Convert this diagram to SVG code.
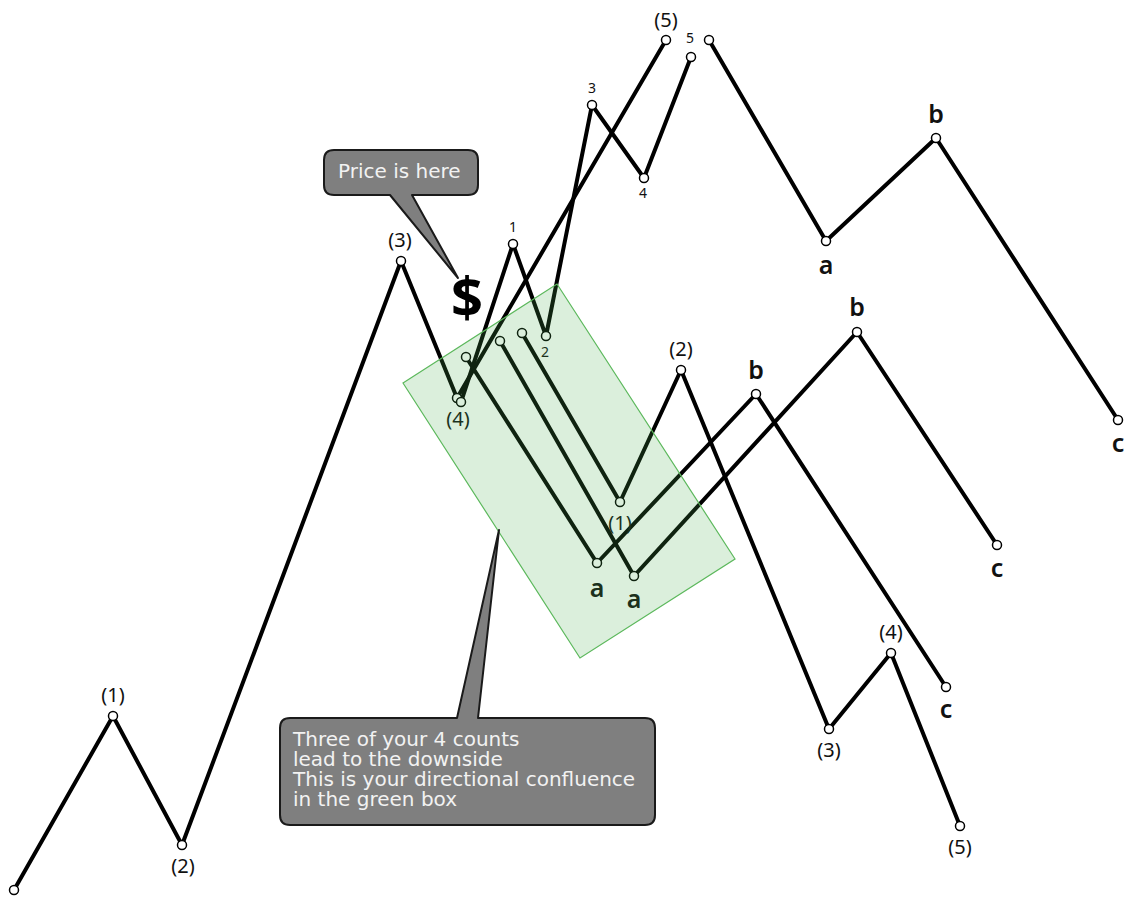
<svg xmlns="http://www.w3.org/2000/svg" width="1126" height="898" viewBox="0 0 1126 898">
<style>
.w{fill:none;stroke:#000;stroke-width:4;stroke-linejoin:round;stroke-linecap:round}
.n{fill:#fff;stroke:#000;stroke-width:1.5}
.p{font-family:"Noto Sans","Open Sans","DejaVu Sans",sans-serif;font-size:20px;fill:#111;text-anchor:middle}
.s{font-family:"Noto Sans","Open Sans","DejaVu Sans",sans-serif;font-size:14px;fill:#111;text-anchor:middle}
.l{font-family:"Noto Sans","Open Sans","DejaVu Sans",sans-serif;font-size:25px;font-weight:600;fill:#111;text-anchor:middle}
.co{fill:#7f7f7f;stroke:#1a1a1a;stroke-width:2;stroke-linejoin:round}
.ct{font-family:"DejaVu Sans","Noto Sans",sans-serif;font-size:20px;fill:#f2f2f2}
</style>
<rect width="1126" height="898" fill="#fff"/>
<g id="connectors">
<polyline class="w" points="14,890 113,716 182,845 401,261 457,398"/>
<polyline class="w" points="457,398 666,40"/>
<polyline class="w" points="461,402 513,244 546,336 592,105 644,178 691,57"/>
<polyline class="w" points="709,40 826,241 936,138 1118,420"/>
<polyline class="w" points="466,357 597,563 756,394 946,687"/>
<polyline class="w" points="500,341 634,576 857,332 997,545"/>
<polyline class="w" points="522,333 620,502 681,370 829,729 891,653 960,826"/>
</g>
<g id="node-start"><circle class="n" cx="14" cy="890" r="4.5"/></g>
<g id="node-p1"><circle class="n" cx="113" cy="716" r="4.5"/><text class="p" x="113" y="702">(1)</text></g>
<g id="node-p2"><circle class="n" cx="182" cy="845" r="4.5"/><text class="p" x="183" y="873">(2)</text></g>
<g id="node-p3"><circle class="n" cx="401" cy="261" r="4.5"/><text class="p" x="400" y="247">(3)</text></g>
<g id="node-p4"><circle class="n" cx="457" cy="398" r="4.5"/><circle class="n" cx="461" cy="402" r="4.5"/><text class="p" x="458" y="426">(4)</text></g>
<g id="node-p5"><circle class="n" cx="666" cy="40" r="4.5"/><text class="p" x="666" y="27">(5)</text></g>
<g id="node-s1"><circle class="n" cx="513" cy="244" r="4.5"/><text class="s" x="513" y="232">1</text></g>
<g id="node-s2"><circle class="n" cx="546" cy="336" r="4.5"/><text class="s" x="545" y="357">2</text></g>
<g id="node-s3"><circle class="n" cx="592" cy="105" r="4.5"/><text class="s" x="592" y="93">3</text></g>
<g id="node-s4"><circle class="n" cx="644" cy="178" r="4.5"/><text class="s" x="643" y="198">4</text></g>
<g id="node-s5"><circle class="n" cx="691" cy="57" r="4.5"/><text class="s" x="690" y="43">5</text></g>
<g id="node-top-start"><circle class="n" cx="709" cy="40" r="4.5"/></g>
<g id="node-top-a"><circle class="n" cx="826" cy="241" r="4.5"/><text class="l" x="826" y="274">a</text></g>
<g id="node-top-b"><circle class="n" cx="936" cy="138" r="4.5"/><text class="l" x="936" y="123">b</text></g>
<g id="node-top-c"><circle class="n" cx="1118" cy="420" r="4.5"/><text class="l" x="1118" y="452">c</text></g>
<g id="node-r1-start"><circle class="n" cx="466" cy="357" r="4.5"/></g>
<g id="node-r1-a"><circle class="n" cx="597" cy="563" r="4.5"/><text class="l" x="597" y="597">a</text></g>
<g id="node-r1-b"><circle class="n" cx="756" cy="394" r="4.5"/><text class="l" x="756" y="379">b</text></g>
<g id="node-r1-c"><circle class="n" cx="946" cy="687" r="4.5"/><text class="l" x="946" y="718">c</text></g>
<g id="node-r2-start"><circle class="n" cx="500" cy="341" r="4.5"/></g>
<g id="node-r2-a"><circle class="n" cx="634" cy="576" r="4.5"/><text class="l" x="634" y="608">a</text></g>
<g id="node-r2-b"><circle class="n" cx="857" cy="332" r="4.5"/><text class="l" x="857" y="316">b</text></g>
<g id="node-r2-c"><circle class="n" cx="997" cy="545" r="4.5"/><text class="l" x="997" y="577">c</text></g>
<g id="node-r3-start"><circle class="n" cx="522" cy="333" r="4.5"/></g>
<g id="node-r3-1"><circle class="n" cx="620" cy="502" r="4.5"/><text class="p" x="620" y="530">(1)</text></g>
<g id="node-r3-2"><circle class="n" cx="681" cy="370" r="4.5"/><text class="p" x="681" y="356">(2)</text></g>
<g id="node-r3-3"><circle class="n" cx="829" cy="729" r="4.5"/><text class="p" x="829" y="757">(3)</text></g>
<g id="node-r3-4"><circle class="n" cx="891" cy="653" r="4.5"/><text class="p" x="891" y="639">(4)</text></g>
<g id="node-r3-5"><circle class="n" cx="960" cy="826" r="4.5"/><text class="p" x="960" y="854">(5)</text></g>
<g id="green-box"><polygon points="403,383 557,284 735,559 580,658" fill="rgb(76,175,80)" fill-opacity="0.2" stroke="#5cb85c" stroke-width="1.2"/></g>
<g id="dollar"><text x="467" y="317" font-family="Noto Sans, DejaVu Sans, sans-serif" font-size="56" font-weight="700" fill="#000" text-anchor="middle">$</text></g>
<g id="callout-price">
<path class="co" d="M334,150 H468 Q478,150 478,160 V185 Q478,195 468,195 H412 L458,278 L390,195 H334 Q324,195 324,185 V160 Q324,150 334,150 Z"/>
<text class="ct" x="338" y="178">Price is here</text>
</g>
<g id="callout-confluence">
<path class="co" d="M290,718 H457 L499,530 L478,718 H645 Q655,718 655,728 V815 Q655,825 645,825 H290 Q280,825 280,815 V728 Q280,718 290,718 Z"/>
<text class="ct" x="293" y="746">Three of your 4 counts</text>
<text class="ct" x="293" y="766">lead to the downside</text>
<text class="ct" x="293" y="786">This is your directional confluence</text>
<text class="ct" x="293" y="806">in the green box</text>
</g>
</svg>
